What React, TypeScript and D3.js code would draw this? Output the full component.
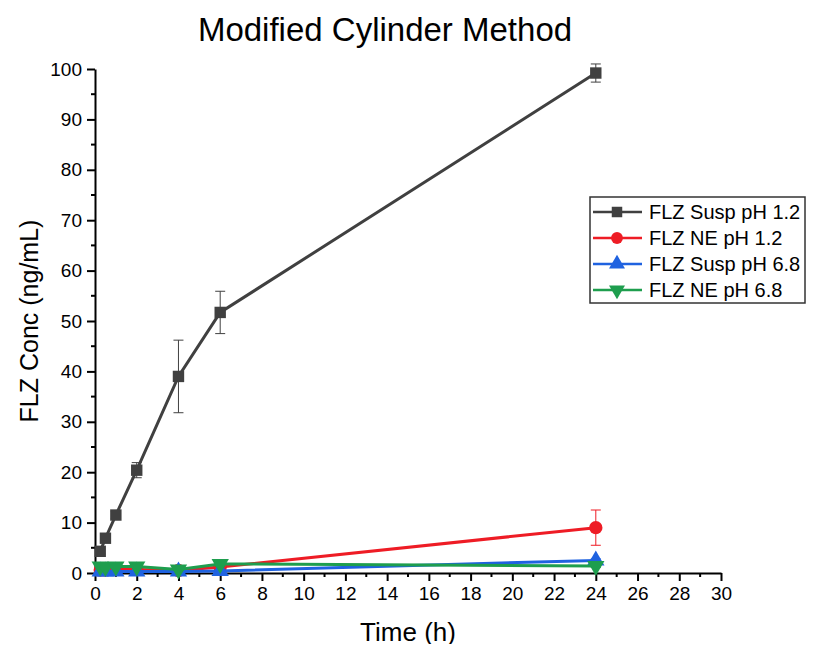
import React, { useEffect, useRef } from 'react';
import * as d3 from 'd3';

const times = [0.25, 0.5, 1, 2, 4, 6, 24];
const seriesNames = ['FLZ Susp pH 1.2', 'FLZ NE pH 1.2', 'FLZ Susp pH 6.8', 'FLZ NE pH 6.8'];
const suspPH12 = [4.3, 6.9, 11.5, 20.4, 39.0, 51.7, 99.2];
const suspPH12Err = [0.5, 0.6, 0.7, 1.5, 7.2, 4.2, 1.8];
const nePH12 = [0.6, 0.6, 0.7, 0.7, 0.5, 1.2, 9.0];
const nePH12Err = [0.1, 0.1, 0.1, 0.1, 0.1, 0.2, 3.5];
const suspPH68 = [0.3, 0.3, 0.3, 0.3, 0.3, 0.4, 2.5];
const suspPH68Err = [0.1, 0.1, 0.1, 0.1, 0.1, 0.1, 0.3];
const nePH68 = [1.3, 1.2, 1.3, 1.3, 0.7, 1.8, 1.4];
const nePH68Err = [0.3, 0.3, 0.3, 0.3, 0.2, 0.5, 0.3];
const xTicks = d3.range(0, 31, 2);
const yTicks = d3.range(0, 101, 10);

const colors = ['#404040', '#ee1c25', '#1f62e0', '#1e9e4e'];
const symbols = [d3.symbolSquare, d3.symbolCircle, d3.symbolTriangle, d3.symbolTriangle];
const font = 'Arial, "Liberation Sans", sans-serif';

const App = () => {
  const ref = useRef<SVGSVGElement>(null);

  useEffect(() => {
    const width = 816;
    const height = 652;
    const margin = { top: 69, right: 95, bottom: 79, left: 95 };
    const svg = d3.select(ref.current);
    svg.selectAll('*').remove();

    const x = d3.scaleLinear().domain([0, 30]).range([margin.left, width - margin.right]);
    const y = d3.scaleLinear().domain([0, 100]).range([height - margin.bottom, margin.top]);

    const data = [
      { name: seriesNames[0], values: suspPH12, err: suspPH12Err },
      { name: seriesNames[1], values: nePH12, err: nePH12Err },
      { name: seriesNames[2], values: suspPH68, err: suspPH68Err },
      { name: seriesNames[3], values: nePH68, err: nePH68Err },
    ];

    svg.append('rect').attr('width', width).attr('height', height).attr('fill', '#fff');

    // title
    svg.append('text')
      .attr('x', 385).attr('y', 41)
      .attr('text-anchor', 'middle')
      .attr('font-family', font).attr('font-size', 33)
      .text('Modified Cylinder Method');

    // axes
    const xAxis = svg.append('g')
      .attr('transform', `translate(0,${y(0)})`)
      .call(d3.axisBottom(x).tickValues(xTicks).tickSize(8).tickPadding(6).tickSizeOuter(0));
    xAxis.selectAll('line').attr('stroke-width', 2);
    xAxis.select('.domain').attr('stroke-width', 2);
    xAxis.selectAll('text').attr('font-family', font).attr('font-size', 19).attr('fill', '#000');
    xAxis.selectAll('.minor')
      .data(d3.range(1, 30, 2))
      .join('line')
      .attr('x1', (d) => x(d)).attr('x2', (d) => x(d))
      .attr('y1', 0).attr('y2', 4)
      .attr('stroke', '#000').attr('stroke-width', 2);

    const yAxis = svg.append('g')
      .attr('transform', `translate(${x(0)},0)`)
      .call(d3.axisLeft(y).tickValues(yTicks).tickSize(8).tickPadding(5).tickSizeOuter(0));
    yAxis.selectAll('line').attr('stroke-width', 2);
    yAxis.select('.domain').attr('stroke-width', 2);
    yAxis.selectAll('text').attr('font-family', font).attr('font-size', 19).attr('fill', '#000');
    yAxis.selectAll('.minor')
      .data(d3.range(5, 100, 10))
      .join('line')
      .attr('y1', (d) => y(d)).attr('y2', (d) => y(d))
      .attr('x1', 0).attr('x2', -4)
      .attr('stroke', '#000').attr('stroke-width', 2);

    svg.append('text')
      .attr('x', 408).attr('y', 641)
      .attr('text-anchor', 'middle')
      .attr('font-family', font).attr('font-size', 26)
      .text('Time (h)');

    svg.append('text')
      .attr('transform', `translate(38,${y(50)}) rotate(-90)`)
      .attr('text-anchor', 'middle')
      .attr('font-family', font).attr('font-size', 25)
      .text('FLZ Conc (ng/mL)');

    const line = d3.line<number>()
      .x((_, i) => x(times[i]))
      .y((d) => y(d));

    // Origin order: later series on top
    [0, 1, 2, 3].forEach((s) => {
      const ser = data[s];
      const g = svg.append('g');
      const c = colors[s];
      // error bars
      ser.values.forEach((v, i) => {
        const cx = x(times[i]);
        const top = y(v + ser.err[i]);
        const bot = y(v - ser.err[i]);
        g.append('line').attr('x1', cx).attr('x2', cx).attr('y1', top).attr('y2', bot)
          .attr('stroke', c).attr('stroke-width', 1);
        [top, bot].forEach((yy) => {
          g.append('line').attr('x1', cx - 5).attr('x2', cx + 5).attr('y1', yy).attr('y2', yy)
            .attr('stroke', c).attr('stroke-width', 1);
        });
      });
      g.append('path')
        .datum(ser.values)
        .attr('d', line)
        .attr('fill', 'none')
        .attr('stroke', c)
        .attr('stroke-width', 3);
      const sym = d3.symbol().type(symbols[s]).size(s === 1 ? 140 : 130);
      g.selectAll('path.pt')
        .data(ser.values)
        .join('path')
        .attr('class', 'pt')
        .attr('d', sym)
        .attr('transform', (d, i) => `translate(${x(times[i])},${y(d)})${s === 3 ? ' rotate(180)' : ''}`)
        .attr('fill', c);
    });

    // legend
    const lg = svg.append('g').attr('transform', 'translate(590,197)');
    lg.append('rect').attr('width', 215).attr('height', 106)
      .attr('fill', '#fff').attr('stroke', '#333').attr('stroke-width', 1.5);
    data.forEach((ser, s) => {
      const yy = 15 + s * 26;
      lg.append('line').attr('x1', 3).attr('x2', 52).attr('y1', yy).attr('y2', yy)
        .attr('stroke', colors[s]).attr('stroke-width', 2.5);
      lg.append('path')
        .attr('d', d3.symbol().type(symbols[s]).size(110)())
        .attr('transform', `translate(27,${yy})${s === 3 ? ' rotate(180)' : ''}`)
        .attr('fill', colors[s]);
      lg.append('text')
        .attr('x', 59).attr('y', yy + 7)
        .attr('font-family', font).attr('font-size', 20)
        .text(ser.name);
    });
  }, []);

  return (
    <svg ref={ref} width={816} height={652} style={{ display: 'block', margin: -8 }} />
  );
};

export default App;
